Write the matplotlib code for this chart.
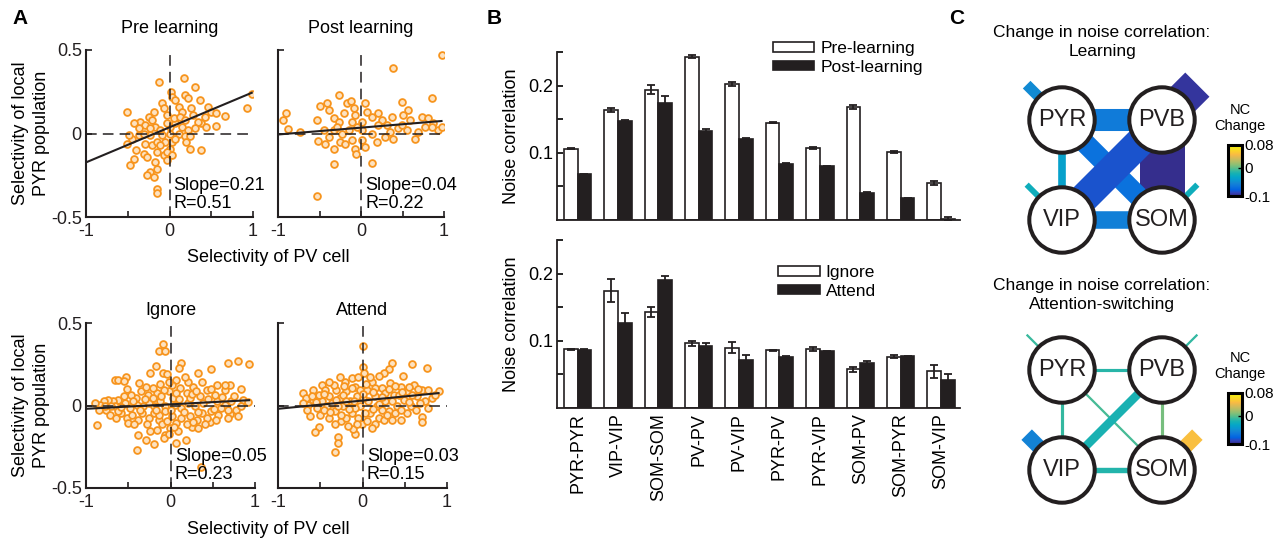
import numpy as np
import matplotlib
matplotlib.use('Agg')
import matplotlib.pyplot as plt
from matplotlib.colors import LinearSegmentedColormap, Normalize
from matplotlib.patches import Circle
import matplotlib.cm as cm

plt.rcParams['font.family'] = ['Liberation Sans', 'DejaVu Sans']
plt.rcParams['axes.unicode_minus'] = False

W, H = 1275, 542

# ---------------- panel A : (PV selectivity, PYR population selectivity)
pre_pts = [(0.17, 0.335), (-0.12, 0.31), (0.31, 0.28), (0.985, 0.235), (0.93, 0.15), (-0.51, 0.13),
           (0.02, 0.25), (0.03, 0.22), (0.06, 0.20), (0.18, 0.23), (0.22, 0.21), (0.36, 0.20),
           (-0.09, 0.18), (-0.07, 0.15), (-0.03, 0.11), (0.11, 0.16), (0.15, 0.13), (0.26, 0.15),
           (0.46, 0.16), (0.50, 0.13), (0.66, 0.105), (0.56, 0.12), (0.42, 0.10), (0.38, 0.06),
           (0.44, 0.04), (0.56, 0.045), (-0.25, 0.10), (-0.21, 0.08), (-0.35, 0.07), (-0.43, 0.065),
           (-0.29, 0.05), (-0.17, 0.04), (-0.11, 0.02), (0.01, 0.04), (0.07, 0.06), (0.15, 0.04),
           (0.22, 0.02), (0.11, 0.0), (0.18, -0.015), (0.24, -0.015), (0.34, 0.07), (-0.37, -0.01),
           (-0.45, -0.03), (-0.51, -0.06), (-0.40, -0.10), (-0.29, -0.06), (-0.21, -0.07), (-0.31, -0.12),
           (-0.27, -0.14), (-0.15, -0.11), (-0.07, -0.13), (0.01, -0.09), (0.03, -0.05), (-0.05, -0.05),
           (-0.15, -0.05), (-0.17, -0.17), (-0.23, -0.23), (-0.19, -0.26), (-0.27, -0.25), (-0.15, -0.21),
           (-0.47, -0.19), (-0.42, -0.15), (-0.15, -0.335), (-0.15, -0.355), (0.24, -0.09), (0.38, -0.10),
           (0.20, -0.05), (0.07, -0.03), (-0.09, -0.01), (-0.23, -0.01), (0.0, 0.0), (0.05, 0.09),
           (0.13, 0.10), (0.18, 0.08), (0.28, 0.11), (0.31, 0.03), (-0.03, 0.06), (-0.19, 0.13),
           (-0.37, 0.03), (-0.49, -0.01), (-0.11, -0.07), (-0.03, -0.11), (-0.03, -0.16), (0.03, -0.13),
           (-0.23, 0.03), (-0.31, 0.0)]

post_pts = [(0.97, 0.47), (0.39, 0.39), (0.85, 0.21), (-0.26, 0.23), (-0.49, 0.165), (-0.41, 0.18),
            (-0.17, 0.18), (-0.12, 0.195), (-0.90, 0.12), (-0.94, 0.08), (-0.88, 0.026), (-0.74, 0.006),
            (-0.53, 0.08), (-0.39, 0.14), (-0.33, 0.09), (-0.27, 0.07), (-0.21, 0.12), (-0.09, 0.15),
            (-0.07, 0.11), (0.05, 0.18), (0.07, 0.13), (0.13, 0.10), (0.21, 0.12), (0.25, 0.08),
            (0.37, 0.10), (0.49, 0.19), (0.57, 0.14), (0.51, 0.11), (0.59, 0.08), (0.73, 0.10),
            (0.81, 0.09), (0.87, 0.06), (0.93, 0.02), (0.97, 0.04), (0.69, 0.01), (0.65, -0.03),
            (0.55, 0.02), (0.45, 0.03), (0.35, 0.01), (0.29, -0.02), (0.19, -0.05), (0.13, 0.0),
            (0.01, 0.02), (-0.05, 0.04), (-0.15, 0.02), (-0.23, 0.0), (-0.33, 0.02), (-0.39, -0.02),
            (-0.52, -0.045), (-0.43, -0.065), (-0.33, -0.09), (-0.25, -0.05), (-0.19, -0.06), (-0.07, -0.09),
            (-0.06, -0.12), (0.01, -0.04), (-0.33, -0.185), (0.13, -0.175), (-0.53, -0.375), (0.39, -0.035),
            (0.21, 0.05), (0.01, 0.07), (-0.11, 0.07), (-0.29, 0.04), (-0.45, 0.02), (0.85, 0.04),
            (0.77, 0.04), (0.31, 0.05), (0.49, 0.05), (-0.11, -0.04), (0.05, -0.08)]

ign_pts = [(-0.09, 0.37), (-0.14, 0.33), (-0.07, 0.33), (0.12, 0.26), (0.10, 0.23), (-0.17, 0.24),
           (-0.09, 0.20), (-0.04, 0.19), (0.68, 0.26), (0.80, 0.27), (0.93, 0.25), (0.48, 0.22),
           (0.33, 0.20), (-0.66, 0.155), (-0.62, 0.155), (-0.53, 0.17), (-0.55, 0.15), (-0.24, 0.195),
           (-0.87, -0.12), (-0.38, -0.18), (-0.29, -0.21), (-0.20, -0.235), (-0.40, -0.27), (0.07, -0.23),
           (0.18, -0.21), (0.36, -0.37), (-0.16, -0.15), (-0.06, -0.18), (0.25, -0.13), (0.47, -0.10),
           (0.65, 0.095), (0.71, 0.125), (0.64, 0.125), (0.83, 0.10), (0.86, 0.035), (0.92, 0.02),
           (0.78, -0.03), (0.70, -0.05), (0.83, -0.005), (0.65, 0.005), (0.55, 0.025), (0.53, 0.065),
           (0.43, 0.095), (0.35, 0.055), (0.27, 0.115), (0.21, 0.145), (0.19, 0.075), (0.11, 0.105),
           (0.07, 0.155), (0.03, 0.045), (-0.02, 0.085), (-0.08, 0.095), (-0.16, 0.075), (-0.21, 0.105),
           (-0.27, 0.065), (-0.35, 0.085), (-0.41, 0.045), (-0.47, 0.065), (-0.55, 0.055), (-0.62, 0.035),
           (-0.68, 0.025), (-0.74, 0.035), (-0.79, 0.025), (-0.83, 0.005), (-0.89, 0.015), (-0.85, -0.025),
           (-0.76, -0.025), (-0.72, -0.055), (-0.64, -0.075), (-0.58, -0.045), (-0.52, -0.075), (-0.46, -0.055),
           (-0.38, -0.085), (-0.34, -0.045), (-0.26, -0.075), (-0.20, -0.045), (-0.14, -0.085), (-0.10, -0.115),
           (-0.04, -0.095), (0.02, -0.065), (0.07, -0.105), (0.13, -0.075), (0.19, -0.115), (0.23, -0.065),
           (0.31, -0.085), (0.37, -0.045), (0.43, -0.075), (0.48, -0.035), (0.56, -0.055), (0.60, -0.015),
           (0.72, 0.025), (0.55, 0.125), (0.37, 0.145), (0.39, 0.015), (0.29, -0.005), (0.21, 0.015),
           (0.13, -0.015), (0.05, 0.005), (-0.07, -0.005), (-0.13, 0.025), (-0.19, -0.005), (-0.26, 0.015),
           (-0.32, -0.005), (-0.40, 0.005), (-0.48, -0.015), (-0.54, 0.015), (-0.66, -0.005), (-0.78, -0.005),
           (-0.29, 0.115), (-0.37, 0.135), (0.02, 0.125), (0.17, 0.175), (0.23, 0.045), (0.07, 0.075),
           (-0.02, 0.145), (-0.21, 0.045), (-0.07, -0.035), (-0.01, -0.135), (-0.14, -0.055), (-0.28, -0.115),
           (-0.50, -0.105), (-0.62, -0.035), (0.09, -0.155), (0.33, -0.135), (0.41, -0.115), (0.54, -0.085),
           (0.68, -0.075), (0.80, -0.065), (-0.24, -0.155), (-0.08, -0.195), (-0.02, -0.175),
           (-0.44, 0.03), (-0.30, 0.04), (-0.11, 0.06), (0.10, 0.04), (0.26, 0.07), (0.44, 0.04),
           (0.61, 0.05), (0.75, 0.06), (-0.58, -0.01), (-0.36, -0.03), (-0.17, -0.03), (0.00, -0.03),
           (0.16, -0.04), (0.33, -0.04), (0.51, -0.02), (0.68, -0.03), (-0.70, 0.0), (-0.52, 0.10),
           (-0.12, 0.13), (0.30, 0.09), (0.48, 0.10), (-0.43, -0.11), (0.04, -0.13), (0.27, -0.10)]

att_pts = [(0.0, 0.36), (0.01, 0.235), (0.02, 0.20), (0.35, 0.26), (0.31, 0.22), (0.25, 0.20),
           (0.19, 0.18), (0.58, 0.25), (0.76, 0.23), (0.48, 0.18), (0.90, 0.09), (0.70, -0.07),
           (0.70, -0.10), (0.46, -0.09), (-0.52, -0.13), (-0.56, -0.16), (-0.29, -0.19), (-0.29, -0.23),
           (-0.33, -0.28), (-0.09, -0.17), (-0.11, -0.14), (-0.70, 0.075), (-0.67, 0.045), (-0.62, -0.065),
           (-0.48, 0.125), (-0.44, 0.095), (-0.64, 0.005), (-0.58, 0.035), (-0.54, -0.015), (-0.48, 0.025),
           (-0.42, -0.005), (-0.40, 0.055), (-0.36, 0.015), (-0.33, -0.035), (-0.31, 0.095), (-0.27, 0.045),
           (-0.23, -0.005), (-0.21, 0.145), (-0.19, 0.085), (-0.15, 0.025), (-0.13, -0.045), (-0.09, 0.115),
           (-0.07, 0.055), (-0.05, -0.075), (-0.03, -0.005), (0.05, 0.095), (0.07, 0.025), (0.09, -0.045),
           (0.11, 0.145), (0.15, 0.055), (0.17, -0.005), (0.19, -0.075), (0.23, 0.105), (0.27, 0.025),
           (0.31, -0.035), (0.33, 0.135), (0.37, 0.065), (0.41, -0.005), (0.45, 0.115), (0.49, 0.035),
           (0.53, 0.085), (0.57, -0.005), (0.61, 0.125), (0.65, 0.055), (0.70, 0.095), (0.74, 0.025),
           (0.78, 0.095), (0.82, 0.045), (0.86, 0.065), (-0.50, -0.055), (-0.40, -0.075), (-0.25, -0.095),
           (-0.19, -0.075), (-0.17, -0.125), (-0.01, -0.115), (0.05, -0.095), (0.15, -0.115), (0.25, -0.085),
           (0.35, -0.085), (0.11, -0.135), (-0.52, 0.065), (-0.34, 0.125), (-0.13, 0.165), (-0.27, 0.175),
           (-0.05, 0.175), (0.09, 0.175), (-0.40, 0.145), (-0.23, 0.065), (0.01, 0.045), (-0.09, -0.015),
           (-0.29, -0.005), (0.39, -0.045), (0.53, -0.045), (0.63, -0.025), (0.78, -0.015), (0.68, 0.015),
           (0.35, 0.025), (0.23, -0.025), (0.03, -0.045), (-0.58, 0.095), (-0.66, -0.025), (-0.70, 0.015),
           (-0.46, -0.025), (-0.13, 0.105), (0.15, 0.105), (0.43, 0.065), (0.59, 0.065), (0.27, 0.075),
           (-0.03, 0.095), (-0.25, -0.055), (-0.07, -0.115), (-0.33, -0.115), (-0.31, 0.035),
           (-0.60, 0.06), (-0.45, 0.07), (-0.20, 0.03), (0.00, 0.07), (0.12, 0.08), (0.20, 0.01),
           (0.31, 0.10), (0.47, 0.08), (0.55, 0.02), (0.66, 0.10), (-0.38, -0.04), (-0.16, -0.02),
           (0.13, -0.02), (0.29, -0.06), (0.45, -0.03), (-0.55, 0.02), (-0.22, 0.12), (0.04, 0.13),
           (0.38, 0.12), (0.55, 0.11), (-0.10, 0.03), (0.23, 0.05)]

# fitted lines as drawn (slope, intercept) and the printed statistics
fit_slope = [0.21, 0.041, 0.027, 0.05]
fit_icpt = [0.037, 0.035, 0.007, 0.03]
stat_txt = ['Slope=0.21\nR=0.51', 'Slope=0.04\nR=0.22', 'Slope=0.05\nR=0.23', 'Slope=0.03\nR=0.15']
scatter_titles = ['Pre learning', 'Post learning', 'Ignore', 'Attend']

# ---------------- panel B : noise correlations
pairs = ['PYR-PYR', 'VIP-VIP', 'SOM-SOM', 'PV-PV', 'PV-VIP', 'PYR-PV', 'PYR-VIP', 'SOM-PV', 'SOM-PYR', 'SOM-VIP']
pre_nc = [0.106, 0.164, 0.194, 0.243, 0.202, 0.145, 0.107, 0.168, 0.101, 0.055]
pre_err = [0.001, 0.003, 0.007, 0.002, 0.003, 0.001, 0.001, 0.003, 0.001, 0.003]
post_nc = [0.068, 0.147, 0.174, 0.133, 0.120, 0.084, 0.080, 0.040, 0.032, 0.002]
post_err = [0.001, 0.002, 0.011, 0.002, 0.002, 0.001, 0.001, 0.002, 0.001, 0.002]
ign_nc = [0.0875, 0.1745, 0.1425, 0.096, 0.090, 0.086, 0.0875, 0.0575, 0.0765, 0.0545]
ign_err = [0.001, 0.017, 0.0075, 0.004, 0.0085, 0.001, 0.003, 0.004, 0.002, 0.0095]
attn_nc = [0.0865, 0.127, 0.190, 0.092, 0.071, 0.076, 0.0845, 0.0675, 0.077, 0.042]
attn_err = [0.001, 0.015, 0.006, 0.004, 0.008, 0.001, 0.001, 0.002, 0.001, 0.009]

# ---------------- panel C : change in noise correlation networks
nodes = ['PYR', 'PVB', 'VIP', 'SOM']
edges = [('PYR', 'PVB'), ('PYR', 'VIP'), ('PVB', 'SOM'), ('VIP', 'SOM'), ('PYR', 'SOM'), ('PVB', 'VIP')]
learn_edge_val = [-0.062, -0.037, -0.098, -0.059, -0.068, -0.083]
learn_edge_mag = [0.49, 0.17, 1.0, 0.39, 0.45, 0.66]
learn_self_val = [-0.052, -0.095, -0.026, -0.026]
learn_self_mag = [0.24, 0.76, 0.13, 0.13]
att_edge_val = [-0.015, -0.011, 0.006, -0.017, -0.006, -0.020]
att_edge_mag = [0.07, 0.07, 0.07, 0.12, 0.05, 0.19]
att_self_val = [-0.010, -0.012, -0.057, 0.049]
att_self_mag = [0.05, 0.05, 0.33, 0.33]
nc_min, nc_max = -0.1, 0.08

parula = [(0.2081, 0.1663, 0.5292), (0.1959, 0.2645, 0.7279), (0.0117, 0.3875, 0.8820),
          (0.0498, 0.4586, 0.8641), (0.0793, 0.5200, 0.8312), (0.0343, 0.5966, 0.8199),
          (0.0228, 0.6535, 0.7768), (0.0843, 0.6928, 0.7062), (0.2178, 0.7250, 0.6193),
          (0.3953, 0.7459, 0.5244), (0.5709, 0.7485, 0.4494), (0.7184, 0.7411, 0.3905),
          (0.8507, 0.7299, 0.3360), (0.9739, 0.7314, 0.2666), (0.9880, 0.8066, 0.1794),
          (0.9589, 0.8949, 0.1132), (0.9763, 0.9831, 0.0538)]
cmap = LinearSegmentedColormap.from_list('parula', parula)
norm = Normalize(nc_min, nc_max)

INK = '#231f20'
fig = plt.figure(figsize=(W / 100, H / 100), dpi=100)


def add_ax(left, top, width, height):
    """axes placed in pixel coordinates of the final image"""
    return fig.add_axes([left / W, 1 - (top + height) / H, width / W, height / H])


def ftext(px, py, s, **kw):
    fig.text(px / W, 1 - py / H, s, **kw)


# ---------------- A
a_boxes = [(86, 50, 167, 167), (278, 50, 166, 167), (86, 323, 169, 165), (278, 323, 169, 165)]
all_pts = [pre_pts, post_pts, ign_pts, att_pts]
for k, box in enumerate(a_boxes):
    ax = add_ax(*box)
    p = np.array(all_pts[k])
    ax.plot([-1, 1], [0, 0], color=INK, lw=1.1, dashes=(7, 4), zorder=3)
    ax.plot([0, 0], [-0.5, 0.5], color=INK, lw=1.1, dashes=(7, 4), zorder=3)
    ax.scatter(p[:, 0], p[:, 1], s=24, facecolor='#fde2c0', edgecolor='#f7941d', linewidths=1.3, zorder=2)
    xs = np.array([-1, p[:, 0].max()])
    ax.plot(xs, fit_icpt[k] + fit_slope[k] * xs, color=INK, lw=1.5, zorder=4)
    ax.text(0.05, -0.47, stat_txt[k], fontsize=13, ha='left', va='bottom', linespacing=1.05, zorder=5)
    ax.set_xlim(-1, 1)
    ax.set_ylim(-0.5, 0.5)
    for s in ['top', 'right']:
        ax.spines[s].set_visible(False)
    for s in ['left', 'bottom']:
        ax.spines[s].set_linewidth(1.5)
        ax.spines[s].set_color(INK)
    ax.set_xticks([-1, -0.5, 0, 0.5, 1])
    ax.set_xticklabels(['-1', '', '0', '', '1'])
    ax.set_yticks([-0.5, 0, 0.5])
    ax.set_yticklabels(['-0.5', '0', '0.5'] if k % 2 == 0 else ['', '', ''])
    ax.tick_params(direction='in', length=4, width=1.2, labelsize=13, colors=INK)
    ax.tick_params(axis='x', pad=4)
    ax.tick_params(axis='y', pad=3)
    ax.set_title(scatter_titles[k], fontsize=13, pad=12 if k < 2 else 6)

ftext(31, 133, 'Selectivity of local\nPYR population', rotation=90, ha='center', va='center', fontsize=13,
      linespacing=1.35)
ftext(31, 405, 'Selectivity of local\nPYR population', rotation=90, ha='center', va='center', fontsize=13,
      linespacing=1.35)
ftext(268, 257, 'Selectivity of PV cell', ha='center', va='center', fontsize=13)
ftext(268, 530, 'Selectivity of PV cell', ha='center', va='center', fontsize=13)

# ---------------- B
xpos = np.arange(1, len(pairs) + 1)
bw = 0.34
b_sets = [(pre_nc, pre_err, post_nc, post_err, ['Pre-learning', 'Post-learning'], (0.535, 1.065)),
          (ign_nc, ign_err, attn_nc, attn_err, ['Ignore', 'Attend'], (0.548, 0.85))]
for k, (v1, e1, v2, e2, labs, anchor) in enumerate(b_sets):
    ax = add_ax(557, 52 + 188 * k, 403, 168)
    ekw = dict(ecolor=INK, elinewidth=1.3, capsize=2.6, capthick=1.3)
    b1 = ax.bar(xpos - bw / 2, v1, bw, yerr=e1, color='white', edgecolor=INK, linewidth=1.2, error_kw=ekw)
    b2 = ax.bar(xpos + bw / 2, v2, bw, yerr=e2, color=INK, edgecolor=INK, linewidth=1.2, error_kw=ekw)
    ax.set_xlim(0.49, 10.47)
    ax.set_ylim(0, 0.25)
    for s in ['top', 'right']:
        ax.spines[s].set_visible(False)
    for s in ['left', 'bottom']:
        ax.spines[s].set_linewidth(1.3)
        ax.spines[s].set_color(INK)
    ax.set_yticks([0.05, 0.1, 0.15, 0.2, 0.25])
    ax.set_yticklabels(['', '0.1', '', '0.2', ''])
    ax.tick_params(axis='y', direction='in', length=4, width=1.2, labelsize=13, pad=3)
    ax.set_xticks(xpos)
    if k == 1:
        ax.set_xticklabels(pairs, rotation=90, fontsize=13)
    else:
        ax.set_xticklabels([])
    ax.tick_params(axis='x', length=0, pad=4)
    ax.set_ylabel('Noise correlation', fontsize=13, labelpad=6)
    ax.legend([b1, b2], labs, loc='upper left', bbox_to_anchor=anchor, frameon=False, fontsize=12.5,
              handlelength=2.4, handleheight=0.45, handletextpad=0.35, labelspacing=0.2,
              borderaxespad=0, borderpad=0)

# ---------------- C
node_pos = {n: (i % 2, 1 - i // 2) for i, n in enumerate(nodes)}
MAXW = 45 * 0.72   # widest band (points)


def draw_net(ax, e_val, e_mag, s_val, s_mag):
    for n, v, m in zip(nodes, s_val, s_mag):
        x, y = node_pos[n]
        dx = -1 if x == 0 else 1
        d = 0.5 / np.sqrt(2)
        ax.plot([x, x + dx * d], [y, y + d], color=cmap(norm(v)), lw=m * MAXW,
                solid_capstyle='butt', zorder=1)
    for (a, b), v, m in zip(edges, e_val, e_mag):
        (x0, y0), (x1, y1) = node_pos[a], node_pos[b]
        ax.plot([x0, x1], [y0, y1], color=cmap(norm(v)), lw=m * MAXW, solid_capstyle='butt', zorder=2)
    for n in nodes:
        ax.add_patch(Circle(node_pos[n], 0.327, facecolor='white', edgecolor=INK, lw=2.9, zorder=5))
        ax.text(*node_pos[n], n, fontsize=17, ha='center', va='center', zorder=6, color=INK)
    ax.set_xlim(-0.6, 1.6)
    ax.set_ylim(-0.6, 1.6)
    ax.set_aspect('equal')
    ax.axis('off')


c_sets = [(learn_edge_val, learn_edge_mag, learn_self_val, learn_self_mag, 60, 'Learning', 42, 145),
          (att_edge_val, att_edge_mag, att_self_val, att_self_mag, 310, 'Attention-switching', 295, 393)]
for e_val, e_mag, s_val, s_mag, top, name, ty, cy in c_sets:
    ax = add_ax(1002, top, 220, 220)
    draw_net(ax, e_val, e_mag, s_val, s_mag)
    ftext(1102, ty, 'Change in noise correlation:\n' + name, ha='center', va='center', fontsize=12.5,
          linespacing=1.35)
    ftext(1240, cy - 27, 'NC\nChange', ha='center', va='center', fontsize=10.5, linespacing=1.15)
    cax = add_ax(1228, cy, 14, 51)
    sm = cm.ScalarMappable(norm=norm, cmap=cmap)
    cb = fig.colorbar(sm, cax=cax, ticks=[nc_max, 0, nc_min])
    cb.ax.set_yticklabels(['0.08', '0', '-0.1'])
    cb.outline.set_linewidth(2.2)
    cb.ax.tick_params(labelsize=11, length=3, width=1, direction='in', pad=2)

# ---------------- panel letters
ftext(20, 18, 'A', fontsize=15, fontweight='bold', ha='center', va='center')
ftext(494, 18, 'B', fontsize=15, fontweight='bold', ha='center', va='center')
ftext(957, 18, 'C', fontsize=15, fontweight='bold', ha='center', va='center')

fig.savefig('out.png', dpi=100)
